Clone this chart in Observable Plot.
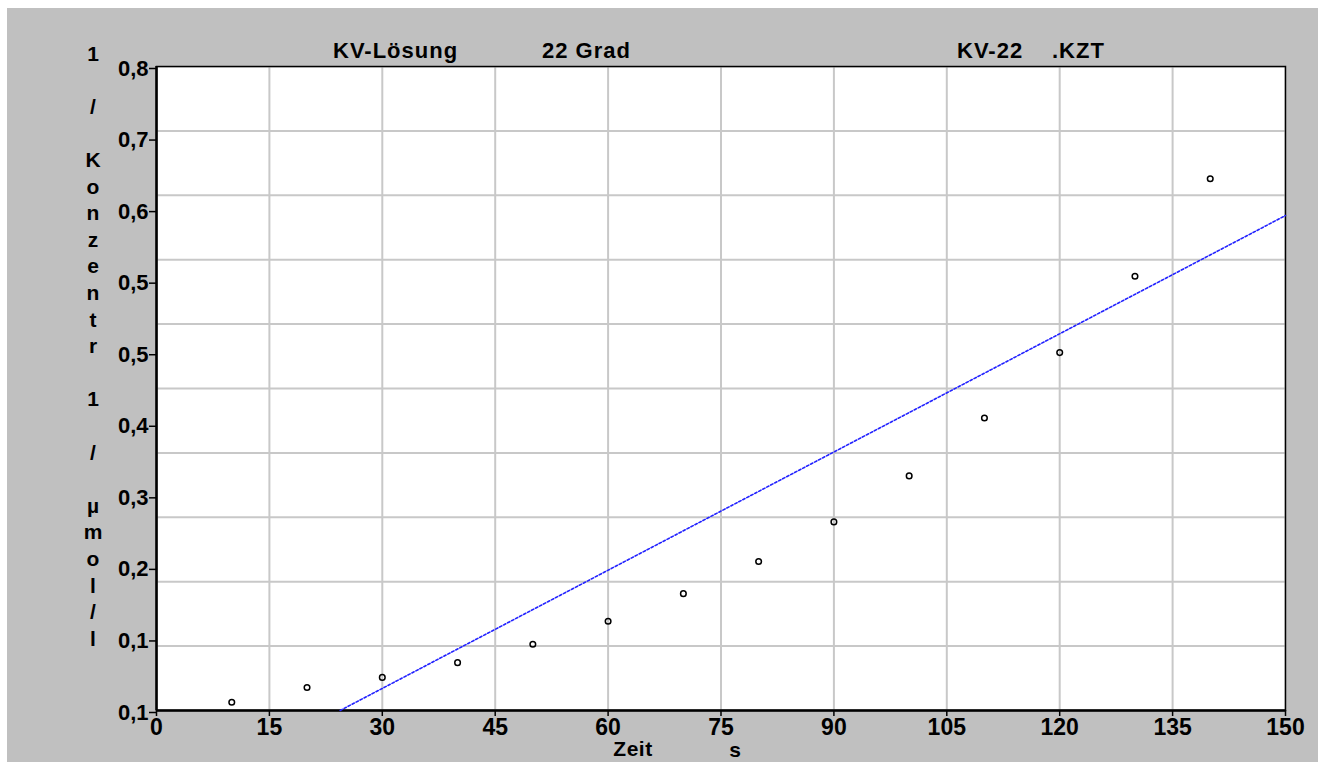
<!DOCTYPE html>
<html>
<head>
<meta charset="utf-8">
<script src="https://cdn.jsdelivr.net/npm/d3@7"></script>
<script src="https://cdn.jsdelivr.net/npm/@observablehq/plot@0.6"></script>
<style>
html,body{margin:0;padding:0;background:#fff;width:1318px;height:762px;overflow:hidden;position:relative}
#bg{position:absolute;left:7px;top:8px;width:1311px;height:754px;background:#c0c0c0}
#chart{position:absolute;left:7px;top:8px}
#overlay{position:absolute;left:0;top:0}
</style>
</head>
<body>
<div id="bg"></div>
<div id="chart"></div>
<svg id="overlay" width="1318" height="762"></svg>
<script>
// ---- data ----
const timeS = [10, 20, 30, 40, 50, 60, 70, 80, 90, 100, 110, 120, 130, 140];
const invConc = [0.109, 0.125, 0.136, 0.152, 0.172, 0.197, 0.227, 0.262, 0.305, 0.355, 0.418, 0.489, 0.572, 0.678];
const fitTime = [24.4, 150];
const fitValue = [0.1, 0.638];
const xTicks = [0, 15, 30, 45, 60, 75, 90, 105, 120, 135, 150];
const yTickLabels = ["0,8", "0,7", "0,6", "0,5", "0,5", "0,4", "0,3", "0,2", "0,1", "0,1"];
const yMin = 0.1, yMax = 0.8;
const titleLeft = "KV-Lösung";
const titleMid = "22 Grad";
const titleRight1 = "KV-22";
const titleRight2 = ".KZT";
const xLabel = "Zeit";
const xUnit = "s";
const yLabel = "1 / Konzentr 1 / µmol/l";

// derived tables
const points = timeS.map((t, i) => ({t, v: invConc[i]}));
const fit = fitTime.map((t, i) => ({t, v: fitValue[i]}));
const yTickPos = yTickLabels.map((_, i) => yMax - i * (yMax - yMin) / (yTickLabels.length - 1));
const yGrid = d3.range(11).map(i => yMin + i * (yMax - yMin) / 10);

const font = "'Liberation Sans', Arial, sans-serif";

const chart = Plot.plot({
  width: 1311,
  height: 754,
  marginLeft: 149,
  marginRight: 33,
  marginTop: 58,
  marginBottom: 52,
  x: {domain: [0, 150]},
  y: {domain: [yMin, yMax]},
  style: {background: "transparent", fontFamily: font, fontWeight: "bold", fontSize: "22px", color: "#000"},
  marks: [
    Plot.frame({fill: "white", stroke: null}),
    Plot.gridX(xTicks, {stroke: "#c8c8c8", strokeOpacity: 1, strokeWidth: 2}),
    Plot.gridY(yGrid, {stroke: "#c8c8c8", strokeOpacity: 1, strokeWidth: 2}),
    Plot.frame({stroke: "#000", strokeWidth: 1.5}),
    Plot.ruleX([0], {stroke: "#000", strokeWidth: 2.5}),
    Plot.ruleY([yMin], {stroke: "#000", strokeWidth: 2.5}),
    Plot.axisX({ticks: xTicks, tickSize: 6, tickPadding: 2, tickFormat: d => String(d), label: null, fontSize: 23, strokeWidth: 1.5}),
    Plot.axisY({ticks: yTickPos, tickSize: 7, tickPadding: 1, tickFormat: d => yTickLabels[yTickPos.indexOf(d)], label: null, fontSize: 22, dy: 2, strokeWidth: 1.5}),
    Plot.line(fit, {x: "t", y: "v", stroke: "#2222ff", strokeWidth: 1.6, strokeDasharray: "2.5,2"}),
    Plot.dot(points, {x: "t", y: "v", r: 2.8, stroke: "#000", strokeWidth: 1.5, fill: "none"})
  ]
});
document.getElementById("chart").appendChild(chart);

// ---- outside texts ----
const ov = d3.select("#overlay");
function txt(s, x, y, size, anchor, spacing) {
  ov.append("text").attr("x", x).attr("y", y)
    .attr("font-family", font).attr("font-weight", "bold").attr("font-size", size)
    .attr("text-anchor", anchor || "start")
    .attr("letter-spacing", spacing || 0)
    .attr("fill", "#000").style("white-space", "pre").text(s);
}
txt(titleLeft, 333, 58, 22, "start", 1);
txt(titleMid, 542, 58, 22, "start", 1);
txt(titleRight1, 957, 58, 22, "start", 1);
txt(titleRight2, 1052, 58, 22, "start", 1);
txt(xLabel, 633, 756, 21, "middle", 0.5);
txt(xUnit, 735, 757, 21, "middle", 0);
// vertical stacked y label
Array.from(yLabel).forEach((ch, i) => {
  if (ch === " ") return;
  ov.append("text").attr("x", 93).attr("y", 53 + i * 26.6).attr("dy", "0.36em")
    .attr("font-family", font).attr("font-weight", "bold").attr("font-size", 21)
    .attr("text-anchor", "middle").attr("fill", "#000").text(ch);
});
</script>
</body>
</html>
